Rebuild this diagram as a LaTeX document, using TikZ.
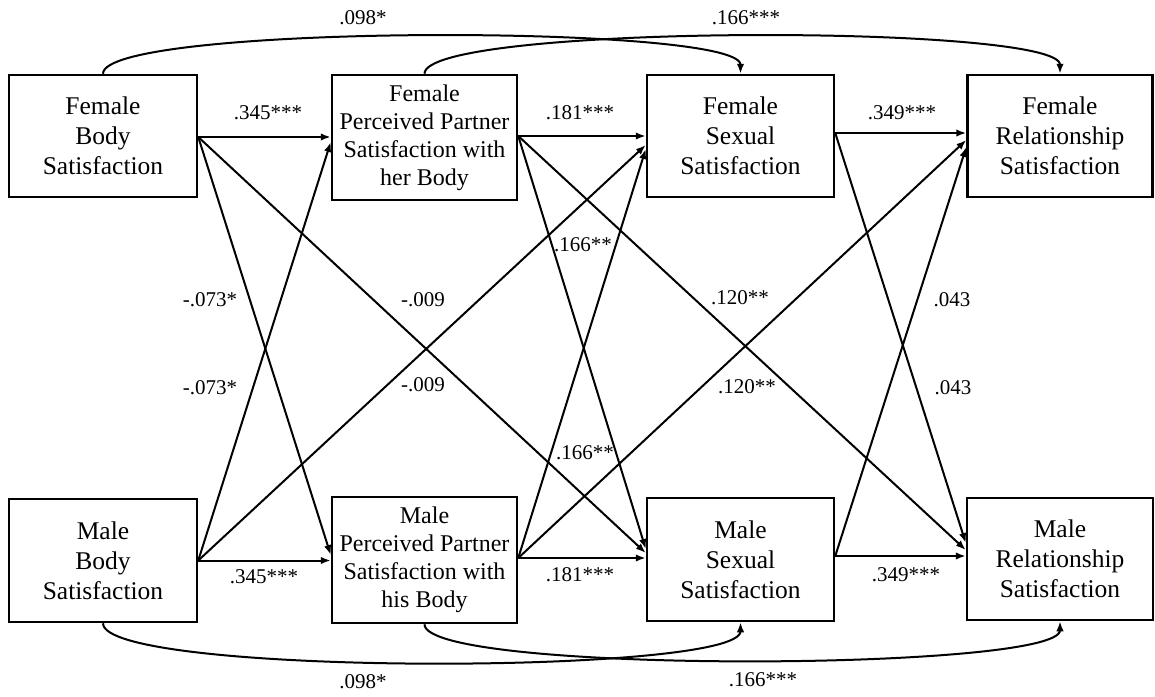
\documentclass[tikz,border=0pt]{standalone}
\usepackage{fontspec}
\setmainfont{Liberation Serif}
\usetikzlibrary{arrows.meta}
\begin{document}
\begin{tikzpicture}[x=1pt,y=-1pt,
  box/.style={draw, line width=2.5pt, inner sep=0pt, align=center, font=\fontsize{25.5}{30}\selectfont},
  boxfour/.style={box, font=\fontsize{24}{28}\selectfont},
  arr/.style={line width=2pt, -{Latex[length=10pt,width=7.5pt]}},
  lab/.style={inner sep=0pt, font=\fontsize{21}{25}\selectfont}]
\useasboundingbox (0,0) rectangle (1155,696);
% boxes
\node[box, minimum width=188pt, minimum height=122pt] (fb) at (103,136) {Female\\Body\\Satisfaction};
\node[boxfour, minimum width=185pt, minimum height=125pt] (fp) at (424.5,137.5) {Female\\Perceived Partner\\Satisfaction with\\her Body};
\node[box, minimum width=187pt, minimum height=122pt] (fs) at (740.5,136) {Female\\Sexual\\Satisfaction};
\node[box, minimum width=185pt, minimum height=122pt] (fr) at (1060,136) {Female\\Relationship\\Satisfaction};
\node[box, minimum width=188pt, minimum height=123pt] (mb) at (103,560.5) {Male\\Body\\Satisfaction};
\node[boxfour, minimum width=185pt, minimum height=126pt] (mp) at (424.5,560) {Male\\Perceived Partner\\Satisfaction with\\his Body};
\node[box, minimum width=187pt, minimum height=123pt] (ms) at (740.5,559.5) {Male\\Sexual\\Satisfaction};
\node[box, minimum width=186pt, minimum height=122pt] (mr) at (1060,559) {Male\\Relationship\\Satisfaction};
% out points
\coordinate (fbo) at ([yshift=-1pt]fb.east);
\coordinate (fpo) at ([yshift=1.5pt]fp.east);
\coordinate (fso) at ([yshift=3pt]fs.east);
\coordinate (mbo) at (mb.east);
\coordinate (mpo) at ([yshift=2pt]mp.east);
\coordinate (mso) at ([yshift=3.5pt]ms.east);
% straight paths
\draw[arr] (fbo) -- (fbo -| fp.west);
\draw[arr] (fbo) -- ([yshift=5pt]mp.west);
\draw[arr] (fbo) -- ([yshift=6.5pt]ms.west);
\draw[arr] (mbo) -- (mbo -| mp.west);
\draw[arr] (mbo) -- ([yshift=-4.5pt]fp.west);
\draw[arr] (mbo) -- ([yshift=-9pt]fs.west);
\draw[arr] (fpo) -- (fpo -| fs.west);
\draw[arr] (fpo) -- ([yshift=10.5pt]ms.west);
\draw[arr] (fpo) -- ([yshift=9pt]mr.west);
\draw[arr] (mpo) -- (mpo -| ms.west);
\draw[arr] (mpo) -- ([yshift=-13pt]fs.west);
\draw[arr] (mpo) -- ([yshift=-4pt]fr.west);
\draw[arr] (fso) -- (fso -| fr.west);
\draw[arr] (fso) -- ([yshift=16pt]mr.west);
\draw[arr] (mso) -- (mso -| mr.west);
\draw[arr] (mso) -- ([yshift=-11pt]fr.west);
% curved paths
\draw[arr] (fb.north) .. controls +(0,-50) and +(0,-50) .. (fs.north);
\draw[arr] (fp.north) .. controls +(0,-50) and +(0,-50) .. (fr.north);
\draw[arr] (mb.south) .. controls +(0,53) and +(0,53) .. (ms.south);
\draw[arr] (mp.south) .. controls +(0,50) and +(0,50) .. (mr.south);
% labels
\node[lab] (l1) at (268,113) {.345***};
\node[lab] (l2) at (580,113) {.181***};
\node[lab] (l3) at (902,113) {.349***};
\node[lab] (l4) at (264,577) {.345***};
\node[lab] (l5) at (580,575) {.181***};
\node[lab] (l6) at (906,575) {.349***};
\node[lab] (l7) at (363,18) {.098*};
\node[lab] (l8) at (746,18) {.166***};
\node[lab] (l9) at (363,682) {.098*};
\node[lab] (l10) at (763,680) {.166***};
\node[lab] (l11) at (210,300) {-.073*};
\node[lab] (l12) at (210,388) {-.073*};
\node[lab] (l13) at (423,300) {-.009};
\node[lab] (l14) at (423,385) {-.009};
\node[lab] (l15) at (583,245) {.166**};
\node[lab] (l16) at (585,453) {.166**};
\node[lab] (l17) at (740,298) {.120**};
\node[lab] (l18) at (747,387) {.120**};
\node[lab] (l19) at (952,300) {.043};
\node[lab] (l20) at (953,388) {.043};
\end{tikzpicture}
\end{document}
